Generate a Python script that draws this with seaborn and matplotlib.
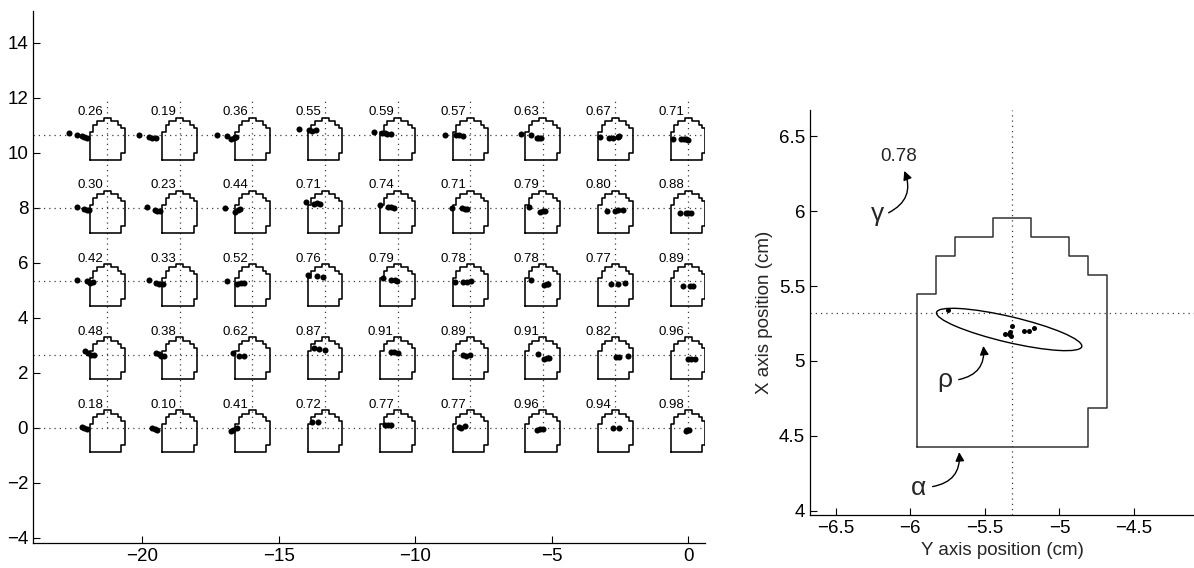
import numpy as np
import pandas as pd
import matplotlib
matplotlib.use("Agg")
import matplotlib.pyplot as plt
from matplotlib.patches import Ellipse
from matplotlib.ticker import FuncFormatter
import seaborn as sns

# grid of target centres (cm)
col_x = [-21.28, -18.62, -15.96, -13.30, -10.64, -7.98, -5.32, -2.66, 0.0]
row_y = [10.64, 7.98, 5.32, 2.66, 0.0]

scores = [
    [0.26, 0.19, 0.36, 0.55, 0.59, 0.57, 0.63, 0.67, 0.71],
    [0.30, 0.23, 0.44, 0.71, 0.74, 0.71, 0.79, 0.80, 0.88],
    [0.42, 0.33, 0.52, 0.76, 0.79, 0.78, 0.78, 0.77, 0.89],
    [0.48, 0.38, 0.62, 0.87, 0.91, 0.89, 0.91, 0.82, 0.96],
    [0.18, 0.10, 0.41, 0.72, 0.77, 0.77, 0.96, 0.94, 0.98],
]

# outline of the target in pixel units (pixel = 0.1275 cm), relative to its centre
pix = 0.1275
outline_u = [-5, -5, -4, -4, -3, -3, -1, -1, 1, 1, 3, 3, 4, 4, 5, 5, 4, 4, -5]
outline_v = [-7, 1, 1, 3, 3, 4, 4, 5, 5, 4, 4, 3, 3, 2, 2, -5, -5, -7, -7]

# dot offsets from each cell centre (cm), one list per cell
dots_dx = [
    [[-1.40, -1.09, -0.94, -0.85, -0.75], [-1.48, -1.14, -1.02, -0.86], [-1.31, -0.95, -0.78, -0.68, -0.60],
     [-0.97, -0.60, -0.46, -0.32], [-0.88, -0.57, -0.48, -0.38, -0.26], [-0.94, -0.52, -0.42, -0.25],
     [-0.80, -0.42, -0.22, -0.14, -0.06], [-0.58, -0.25, -0.09, 0.09, 0.14], [-0.57, -0.25, -0.14, -0.06, 0.0]],
    [[-1.12, -0.85, -0.75, -0.66], [-1.20, -0.91, -0.82, -0.72], [-1.02, -0.65, -0.54, -0.46],
     [-0.71, -0.42, -0.29, -0.17], [-0.66, -0.35, -0.26, -0.14], [-0.68, -0.31, -0.18, -0.12],
     [-0.51, -0.09, 0.0, 0.06], [-0.31, -0.02, 0.09, 0.26], [-0.28, -0.09, 0.0, 0.09]],
    [[-1.09, -0.75, -0.63, -0.54], [-1.14, -0.86, -0.76, -0.63], [-0.95, -0.57, -0.43, -0.31],
     [-0.63, -0.29, -0.08], [-0.55, -0.23, -0.11, -0.03], [-0.55, -0.25, -0.12, 0.02],
     [-0.42, 0.03, 0.14, 0.20], [-0.18, 0.11, 0.34], [-0.20, 0.06, 0.17]],
    [[-0.83, -0.72, -0.60, -0.48], [-0.89, -0.78, -0.68, -0.58], [-0.71, -0.49, -0.31],
     [-0.42, -0.23, -0.02], [-0.26, -0.14, 0.0], [-0.28, -0.15, -0.02],
     [-0.17, 0.05, 0.14, 0.23], [0.02, 0.14, 0.45], [0.0, 0.12, 0.25]],
    [[-0.94, -0.85, -0.75], [-1.02, -0.92, -0.82], [-0.80, -0.71, -0.58],
     [-0.48, -0.26], [-0.45, -0.35, -0.23], [-0.43, -0.34, -0.18],
     [-0.22, -0.12, 0.0], [-0.08, 0.14], [-0.09, -0.03, 0.03]],
]
dots_dy = [
    [[0.06, 0.0, -0.05, -0.06, -0.09], [0.0, -0.06, -0.10, -0.12], [0.0, -0.04, -0.16, -0.10, -0.07],
     [0.23, 0.17, 0.16, 0.17], [0.12, 0.06, 0.06, 0.05, 0.04], [-0.01, -0.01, -0.01, -0.02],
     [0.04, -0.01, -0.09, -0.11, -0.09], [-0.07, -0.11, -0.10, -0.06, -0.05], [-0.15, -0.16, -0.15, -0.16, -0.18]],
    [[0.06, -0.01, -0.05, -0.05], [0.04, -0.06, -0.09, -0.10], [0.02, -0.13, -0.06, -0.04],
     [0.23, 0.17, 0.18, 0.17], [0.11, 0.06, 0.05, 0.02], [0.0, 0.0, -0.01, -0.01],
     [0.04, -0.13, -0.11, -0.10], [-0.11, -0.11, -0.07, -0.06], [-0.18, -0.16, -0.18, -0.16]],
    [[0.06, 0.0, -0.04, -0.01], [0.04, -0.06, -0.08, -0.09], [0.02, -0.11, -0.07, -0.06],
     [0.23, 0.18, 0.17], [0.11, 0.06, 0.04, 0.01], [-0.01, -0.01, -0.01, 0.0],
     [0.04, -0.13, -0.11, -0.10], [-0.11, -0.10, -0.07], [-0.18, -0.18, -0.18]],
    [[0.12, 0.04, -0.01, -0.01], [0.05, 0.01, -0.04, -0.04], [0.04, -0.07, -0.05],
     [0.23, 0.20, 0.18], [0.11, 0.09, 0.07], [-0.01, -0.04, 0.0],
     [0.01, -0.16, -0.13, -0.11], [-0.10, -0.10, -0.07], [-0.17, -0.17, -0.17]],
    [[0.01, -0.02, -0.05], [0.0, -0.06, -0.09], [-0.11, -0.09, -0.02],
     [0.21, 0.22], [0.09, 0.10, 0.10], [0.01, -0.01, 0.05],
     [-0.10, -0.06, -0.05], [-0.01, 0.0], [-0.12, -0.09, -0.10]],
]

# enlarged cell (row 3, column 7)
zoom_row, zoom_col = 2, 6
zoom_x = [-5.749, -5.318, -5.363, -5.340, -5.325, -5.330, -5.236, -5.207, -5.169]
zoom_y = [5.340, 5.230, 5.183, 5.179, 5.166, 5.195, 5.203, 5.203, 5.221]
ell_center = (-5.337, 5.210)
ell_width, ell_height, ell_angle = 1.0, 0.172, -13.2

greek = ["\u03b3", "\u03c1", "\u03b1"]
greek_xy = [(-6.22, 5.98), (-5.77, 4.87), (-5.945, 4.15)]
arrow_from = [(-6.145, 5.99), (-5.675, 4.875), (-5.85, 4.16)]
arrow_to = [(-6.04, 6.27), (-5.51, 5.10), (-5.672, 4.39)]

sns.set_theme(style="ticks")
plt.rcParams["font.family"] = ["Liberation Sans", "DejaVu Sans"]

fig = plt.figure(figsize=(11.94, 5.68), dpi=100)
ax1 = fig.add_axes([33 / 1194, 25 / 568, 672 / 1194, 532 / 568])
ax2 = fig.add_axes([810 / 1194, 53 / 568, 384 / 1194, 405 / 568])

dot_style = dict(color="0.25", lw=0.9, linestyle=(0, (1, 3.2)), zorder=1)

# ---- left panel: all targets ----
outline_rows = []
dot_rows = []
for r, cy in enumerate(row_y):
    for c, cx in enumerate(col_x):
        cell = r * 9 + c
        for u, v in zip(outline_u, outline_v):
            outline_rows.append((cell, cx + u * pix, cy + v * pix))
        for dx, dy in zip(dots_dx[r][c], dots_dy[r][c]):
            dot_rows.append((cell, cx + dx, cy + dy))
        ax1.text(cx - 0.14, cy + 0.72, f"{scores[r][c]:.2f}", ha="right", va="baseline",
                 fontsize=9.5, color="black")
outlines = pd.DataFrame(outline_rows, columns=["cell", "x", "y"])
dots = pd.DataFrame(dot_rows, columns=["cell", "x", "y"])

for cy in row_y:
    ax1.axhline(cy, **dot_style)
ax1.vlines(col_x, 0, 11.9, **dot_style)

sns.lineplot(data=outlines, x="x", y="y", units="cell", estimator=None, sort=False,
             color="black", lw=1.15, ax=ax1, zorder=2)
sns.scatterplot(data=dots, x="x", y="y", color="black", s=19, edgecolor="black",
                linewidth=0, ax=ax1, zorder=3)

ax1.set_xlim(-24, 0.62)
ax1.set_ylim(-4.19, 15.15)
ax1.set_xticks([-20, -15, -10, -5, 0])
ax1.set_yticks(np.arange(-4, 15, 2))

# ---- right panel: one target enlarged ----
zx, zy = col_x[zoom_col], row_y[zoom_row]
ax2.axvline(zx, **dot_style)
ax2.axhline(zy, **dot_style)
big = pd.DataFrame({"x": [zx + u * pix for u in outline_u], "y": [zy + v * pix for v in outline_v]})
sns.lineplot(data=big, x="x", y="y", estimator=None, sort=False, color="0.2", lw=1.1,
             ax=ax2, zorder=2)
sns.scatterplot(x=zoom_x, y=zoom_y, color="black", s=13, linewidth=0, ax=ax2, zorder=3)
ax2.add_patch(Ellipse(ell_center, ell_width, ell_height, angle=ell_angle, fill=False,
                      edgecolor="black", lw=1.0, zorder=2))
ax2.text(-6.08, 6.333, f"{scores[zoom_row][zoom_col]:.2f}", ha="center", va="baseline", fontsize=13.5)
for g, (gx, gy), p0, p1 in zip(greek, greek_xy, arrow_from, arrow_to):
    ax2.text(gx, gy, g, ha="center", va="center", fontsize=19)
    ax2.annotate("", xy=p1, xytext=p0,
                 arrowprops=dict(arrowstyle="-|>", color="black", lw=1.0, mutation_scale=13,
                                 shrinkA=0, shrinkB=0, connectionstyle="arc3,rad=0.45"))

ax2.set_xlim(-6.672, -4.098)
ax2.set_ylim(3.97, 6.677)
ax2.set_xticks([-6.5, -6, -5.5, -5, -4.5])
ax2.set_yticks([4, 4.5, 5, 5.5, 6, 6.5])
ax2.set_xlabel("Y axis position (cm)", fontsize=13.5)
ax2.set_ylabel("X axis position (cm)", fontsize=13.5)

fmt = FuncFormatter(lambda v, pos: ("%g" % v).replace("-", "\u2212"))
for ax in (ax1, ax2):
    ax.xaxis.set_major_formatter(fmt)
    ax.yaxis.set_major_formatter(fmt)
    ax.tick_params(direction="in", length=5, width=0.8, labelsize=13.5, colors="black")
    sns.despine(ax=ax)
    for side in ("left", "bottom"):
        ax.spines[side].set_color("black")
        ax.spines[side].set_linewidth(0.9)
    if ax.get_legend() is not None:
        ax.get_legend().remove()
ax1.set_xlabel("")
ax1.set_ylabel("")

fig.savefig("out.png", dpi=100)
